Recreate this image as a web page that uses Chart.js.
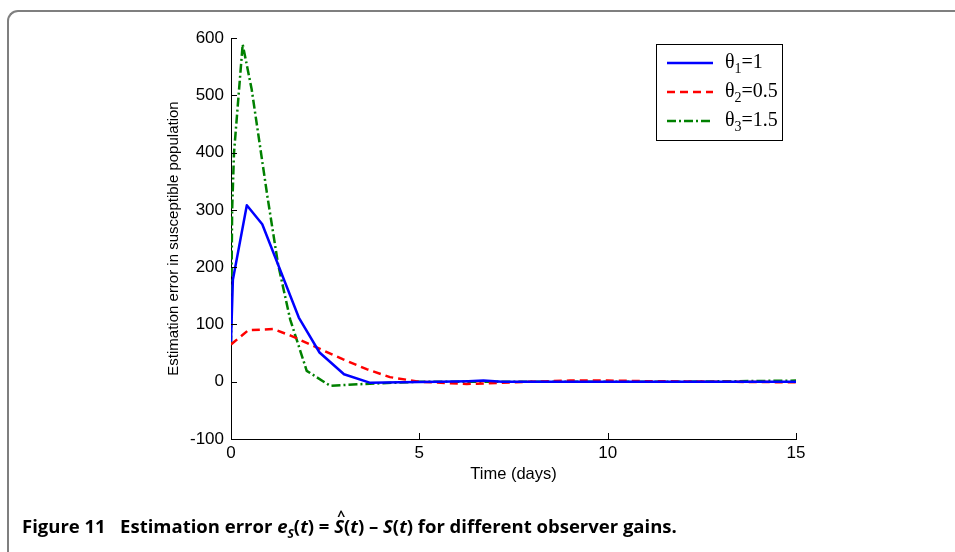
<!DOCTYPE html>
<html>
<head>
<meta charset="utf-8">
<script src="https://cdn.jsdelivr.net/npm/chart.js@4.4.1/dist/chart.umd.min.js"></script>
<style>
  html, body { margin: 0; padding: 0; background: #fff; overflow: hidden; }
  #wrap { position: relative; width: 955px; height: 552px; }
  #frame {
    position: absolute; left: 7px; top: 10px; width: 1000px; height: 600px;
    border-top: 2px solid #7f7f7f; border-left: 2px solid #7f7f7f;
    border-top-left-radius: 11px;
  }
  #chart { position: absolute; left: 0; top: 0; }
  #caption {
    position: absolute; left: 22px; top: 513px; white-space: nowrap; line-height: 26px;
    font-family: "Open Sans", sans-serif; font-weight: bold; font-size: 18.5px;
    letter-spacing: 0; color: #000;
  }
  #caption i { font-style: italic; }
  .hat { position: relative; display: inline-block; }
  .hat::before { content: "^"; position: absolute; left: 3px; top: -10px; font-size: 14px; font-style: normal; }
</style>
</head>
<body>
<div id="wrap">
  <div id="frame"></div>
  <canvas id="chart" width="955" height="552"></canvas>
  <div id="caption">Figure 11&nbsp;&nbsp; Estimation error <i>e<sub style="font-size:12px">S</sub></i>(<i>t</i>) = <i class="hat">S</i>(<i>t</i>) – <i>S</i>(<i>t</i>) for different observer gains.</div>
</div>
<script>
// observer gain theta1 = 1
const tTheta1 = [0, 0.05, 0.42, 0.83, 1.8, 2.35, 3.0, 3.7, 4.5, 5.5, 6.3, 6.7, 7.2, 8, 10, 12, 15];
const eTheta1 = [70, 178, 308, 275, 112, 51, 13, -2, -1, 0, 1, 2, 0, 0, 0, 0, 0];
// theta2 = 0.5
const tTheta2 = [0, 0.46, 1.12, 1.6, 2.27, 2.98, 3.6, 4.22, 5.0, 6.26, 7.5, 9, 10, 11, 13, 15];
const eTheta2 = [65, 90, 92, 80, 60, 39, 22, 8, 0, -4, -1, 2, 2, 1, 0, -1];
// theta3 = 1.5
const tTheta3 = [0, 0.03, 0.08, 0.31, 0.55, 0.97, 1.25, 1.57, 2.01, 2.63, 3.5, 5, 8, 12, 15];
const eTheta3 = [65, 300, 400, 589, 510, 322, 205, 109, 19, -7, -4, 0, 0, 0, 2];

const labels = ["1", "0.5", "1.5"];
const xTicks = [0, 5, 10, 15];
const yTicks = [-100, 0, 100, 200, 300, 400, 500, 600];

const pts = (t, e) => t.map((v, i) => ({ x: v, y: e[i] }));

const inwardTicks = {
  id: "inwardTicks",
  afterDraw(chart) {
    const ctx = chart.ctx, a = chart.chartArea;
    const xs = chart.scales.x, ys = chart.scales.y;
    ctx.save();
    ctx.strokeStyle = "#000";
    ctx.lineWidth = 1;
    ctx.beginPath();
    xTicks.forEach(v => {
      const px = Math.round(xs.getPixelForValue(v)) + 0.5;
      ctx.moveTo(px, a.bottom); ctx.lineTo(px, a.bottom - 6);
    });
    yTicks.forEach(v => {
      const py = Math.round(ys.getPixelForValue(v)) + 0.5;
      ctx.moveTo(a.left, py); ctx.lineTo(a.left + 6, py);
    });
    ctx.stroke();
    ctx.restore();
  }
};

const boxLegend = {
  id: "boxLegend",
  afterDraw(chart) {
    const ctx = chart.ctx;
    ctx.save();
    ctx.fillStyle = "#fff";
    ctx.fillRect(656, 44, 126, 96);
    ctx.strokeStyle = "#000";
    ctx.lineWidth = 1;
    ctx.strokeRect(656.5, 44.5, 126, 96);
    chart.data.datasets.forEach((ds, i) => {
      const y = 63 + i * 29;
      ctx.strokeStyle = ds.borderColor;
      ctx.lineWidth = ds.borderWidth;
      ctx.setLineDash(ds.borderDash || []);
      ctx.beginPath();
      ctx.moveTo(667, y); ctx.lineTo(713, y);
      ctx.stroke();
      ctx.setLineDash([]);
      ctx.fillStyle = "#000";
      ctx.textBaseline = "alphabetic";
      ctx.font = "20px 'Liberation Serif'";
      let x = 725;
      ctx.fillText("θ", x, y + 5);
      x += ctx.measureText("θ").width;
      ctx.font = "14px 'Liberation Serif'";
      ctx.fillText(String(i + 1), x, y + 10);
      x += ctx.measureText(String(i + 1)).width;
      ctx.font = "20px 'Liberation Serif'";
      ctx.fillText("=" + labels[i], x, y + 5);
    });
    ctx.restore();
  }
};

new Chart(document.getElementById("chart"), {
  type: "line",
  data: {
    datasets: [
      { label: "θ1=" + labels[0], data: pts(tTheta1, eTheta1), borderColor: "#0000ff", borderWidth: 2.5 },
      { label: "θ2=" + labels[1], data: pts(tTheta2, eTheta2), borderColor: "#ff0000", borderWidth: 2.5, borderDash: [8, 5] },
      { label: "θ3=" + labels[2], data: pts(tTheta3, eTheta3), borderColor: "#008000", borderWidth: 2.5, borderDash: [9, 3, 2, 3] }
    ]
  },
  options: {
    responsive: false,
    animation: false,
    events: [],
    elements: { point: { radius: 0 }, line: { tension: 0, fill: false, borderCapStyle: "butt", borderJoinStyle: "round" } },
    layout: { padding: { left: 165, top: 38, right: 159, bottom: 68 } },
    plugins: { legend: { display: false }, tooltip: { enabled: false } },
    scales: {
      x: {
        type: "linear", min: 0, max: 15,
        afterFit: s => { s.height = 45; },
        afterBuildTicks: s => { s.ticks = xTicks.map(v => ({ value: v })); },
        grid: { display: false, drawTicks: false },
        border: { display: true, color: "#000", width: 1 },
        ticks: { color: "#000", font: { family: "Liberation Sans", size: 17 }, padding: 4, maxRotation: 0 },
        title: { display: true, text: "Time (days)", color: "#000", font: { family: "Liberation Sans", size: 16.5 }, padding: { top: 0, bottom: 0 } }
      },
      y: {
        min: -100, max: 600,
        afterFit: s => { s.width = 66; },
        afterBuildTicks: s => { s.ticks = yTicks.map(v => ({ value: v })); },
        grid: { display: false, drawTicks: false },
        border: { display: true, color: "#000", width: 1 },
        ticks: { color: "#000", font: { family: "Liberation Sans", size: 17 }, padding: 7 },
        title: { display: true, text: "Estimation error in susceptible population", color: "#000", font: { family: "Liberation Sans", size: 15 }, padding: { top: 0, bottom: 0 } }
      }
    }
  },
  plugins: [inwardTicks, boxLegend]
});
</script>
</body>
</html>
